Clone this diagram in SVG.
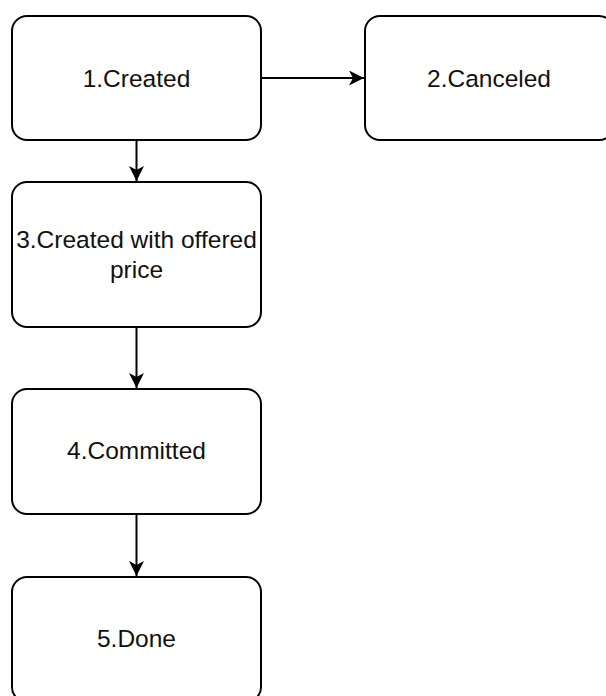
<svg xmlns="http://www.w3.org/2000/svg" width="606" height="696" viewBox="0 0 606 696">
  <style>
    .box { fill: #ffffff; stroke: #000000; stroke-width: 2; }
    .lbl { font-family: "Liberation Sans", Arial, sans-serif; font-size: 24.5px; fill: #111111; text-anchor: middle; }
    .edge { fill: none; stroke: #000000; stroke-width: 2; }
  </style>
  <defs>
    <marker id="arrow" markerUnits="userSpaceOnUse" markerWidth="16" markerHeight="16" refX="15" refY="7.5" orient="auto">
      <path d="M0,0 L15,7.5 L0,15 L4,7.5 Z" fill="#000000"/>
    </marker>
  </defs>
  <rect width="606" height="696" fill="#ffffff"/>
  <g id="connectors">
    <path class="edge" d="M261,78 L364,78" marker-end="url(#arrow)"/>
    <path class="edge" d="M136.5,140 L136.5,181" marker-end="url(#arrow)"/>
    <path class="edge" d="M136.5,327 L136.5,388" marker-end="url(#arrow)"/>
    <path class="edge" d="M136.5,514 L136.5,576" marker-end="url(#arrow)"/>
  </g>
  <g id="node1">
    <rect class="box" x="12" y="16" width="249" height="124" rx="15" ry="15"/>
    <text class="lbl" x="136.5" y="86.5">1.Created</text>
  </g>
  <g id="node2">
    <rect class="box" x="365" y="16" width="249" height="124" rx="15" ry="15"/>
    <text class="lbl" x="489" y="86.5">2.Canceled</text>
  </g>
  <g id="node3">
    <rect class="box" x="12" y="182" width="249" height="145" rx="15" ry="15"/>
    <text class="lbl" x="136.5" y="248">3.Created with offered</text>
    <text class="lbl" x="136.5" y="278">price</text>
  </g>
  <g id="node4">
    <rect class="box" x="12" y="389" width="249" height="125" rx="15" ry="15"/>
    <text class="lbl" x="136.5" y="459">4.Committed</text>
  </g>
  <g id="node5">
    <rect class="box" x="12" y="577" width="249" height="125" rx="15" ry="15"/>
    <text class="lbl" x="136.5" y="647">5.Done</text>
  </g>
</svg>
